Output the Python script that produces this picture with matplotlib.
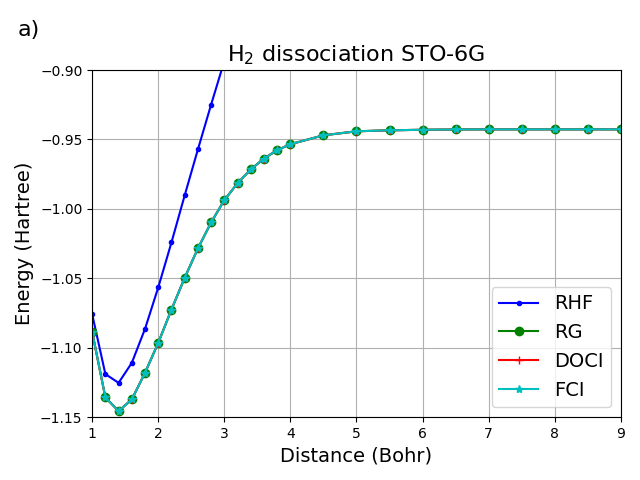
import matplotlib
matplotlib.use("Agg")
import matplotlib.pyplot as plt

distance = [1.0, 1.2, 1.4, 1.6, 1.8, 2.0, 2.2, 2.4, 2.6, 2.8, 3.0, 3.2, 3.4, 3.6, 3.8, 4.0,
            4.5, 5.0, 5.5, 6.0, 6.5, 7.0, 7.5, 8.0, 8.5, 9.0]
rhf = [-1.0758, -1.1190, -1.1253, -1.1109, -1.0864, -1.0566, -1.0242, -0.9903, -0.9572, -0.9249,
       -0.8935, -0.8640, -0.8360, -0.8100, -0.7860, -0.7630, -0.7130, -0.6710, -0.6360, -0.6060,
       -0.5800, -0.5580, -0.5380, -0.5210, -0.5050, -0.4910]
rg = [-1.0886, -1.1358, -1.1457, -1.1372, -1.1181, -1.0965, -1.0725, -1.0497, -1.0285, -1.0098,
      -0.9937, -0.9815, -0.9716, -0.9637, -0.9577, -0.9534, -0.9470, -0.9441, -0.9434, -0.9430,
      -0.9428, -0.9427, -0.9427, -0.9427, -0.9427, -0.9427]
doci = list(rg)
fci = list(rg)

fig = plt.figure(figsize=(6.4, 4.8), dpi=100)
ax = fig.add_axes([0.144, 0.131, 0.826, 0.723])
ax.plot(distance, rhf, 'b.-', label='RHF')
ax.plot(distance, rg, 'go-', label='RG')
ax.plot(distance, doci, 'r+-', label='DOCI')
ax.plot(distance, fci, 'c*-', label='FCI')
ax.set_xlim(1, 9)
ax.set_ylim(-1.15, -0.90)
ax.grid(True)
ax.set_xlabel('Distance (Bohr)', fontsize=14)
ax.set_ylabel('Energy (Hartree)', fontsize=14)
ax.set_title('H$_2$ dissociation STO-6G', fontsize=16)
ax.legend(loc='lower right', fontsize=14)
fig.text(0.027, 0.925, 'a)', fontsize=16)
fig.savefig('out.png', dpi=100)
